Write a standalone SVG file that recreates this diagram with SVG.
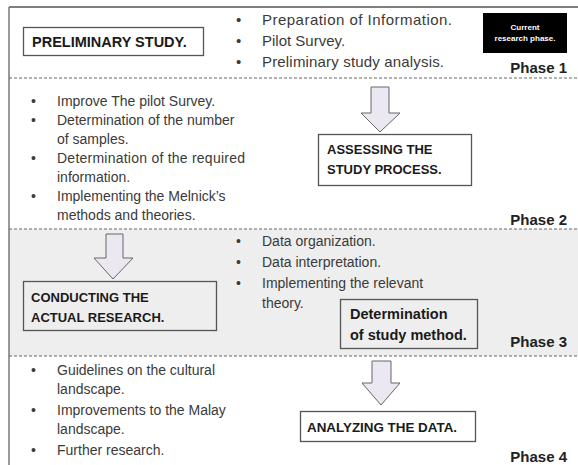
<svg xmlns="http://www.w3.org/2000/svg" width="578" height="465" viewBox="0 0 578 465">
<style>
.t{font-family:"Liberation Sans",Arial,sans-serif;font-size:14px;fill:#3a3a3a}
.t1{font-family:"Liberation Sans",Arial,sans-serif;font-size:15px;fill:#3a3a3a}
.b{font-family:"Liberation Sans",Arial,sans-serif;font-size:13px;font-weight:bold;fill:#1a1a1a}
.ph{font-family:"Liberation Sans",Arial,sans-serif;font-size:15px;font-weight:bold;fill:#222;text-anchor:end}
.box{fill:none;stroke:#555;stroke-width:1.3}
.dash{stroke:#666;stroke-width:1;stroke-dasharray:3,2}
.arr{fill:#ebe8f2;stroke:#666;stroke-width:1}
</style>
<rect x="0" y="0" width="578" height="465" fill="#fff"/>
<rect x="9" y="229" width="569" height="127" fill="#eeeeee"/>
<g id="frame">
<line x1="9" y1="7" x2="578" y2="7" stroke="#555" stroke-width="1.5"/>
<line x1="9" y1="7" x2="9" y2="465" stroke="#777" stroke-width="1.5"/>
<line class="dash" x1="9" y1="78" x2="578" y2="78"/>
<line class="dash" x1="9" y1="229" x2="578" y2="229"/>
<line class="dash" x1="9" y1="356" x2="578" y2="356"/>
</g>
<g id="preliminary">
<rect class="box" x="23.5" y="27.5" width="180" height="28"/>
<text class="b" x="32" y="47" style="font-size:14.5px">PRELIMINARY STUDY.</text>
</g>
<g id="phase1-bullets" class="t1">
<text x="236" y="25">•</text><text x="262" y="25" textLength="190">Preparation of Information.</text>
<text x="236" y="46">•</text><text x="262" y="46">Pilot Survey.</text>
<text x="236" y="67">•</text><text x="262" y="67" textLength="182">Preliminary study analysis.</text>
</g>
<g id="current">
<rect x="483" y="13" width="84" height="40" fill="#000"/>
<text x="525" y="30" text-anchor="middle" font-family="Liberation Sans,Arial,sans-serif" font-size="8" font-weight="bold" fill="#fff">Current</text>
<text x="525" y="41" text-anchor="middle" font-family="Liberation Sans,Arial,sans-serif" font-size="8" font-weight="bold" fill="#fff">research phase.</text>
</g>
<text class="ph" x="567" y="73">Phase 1</text>
<g id="phase2-bullets" class="t">
<text x="31" y="106">•</text><text x="57" y="106">Improve The pilot Survey.</text>
<text x="31" y="125">•</text><text x="57" y="125">Determination of the number</text>
<text x="57" y="144">of samples.</text>
<text x="31" y="163">•</text><text x="57" y="163" textLength="188">Determination of the required</text>
<text x="57" y="182">information.</text>
<text x="31" y="201">•</text><text x="57" y="201">Implementing the Melnick’s</text>
<text x="57" y="220">methods and theories.</text>
</g>
<g id="connectors">
<path class="arr" d="M371,87 H389 V113 H400 L380,132 L361,113 H371 Z"/>
<path class="arr" d="M106,234 H123 V258 H133 L113,279 L94,258 H106 Z"/>
<path class="arr" d="M372,361 H391 V383 H400 L381,405 L362,383 H372 Z"/>
</g>
<g id="assessing">
<rect class="box" x="318.5" y="134.5" width="153" height="51"/>
<text class="b" x="327" y="154">ASSESSING THE</text>
<text class="b" x="327" y="174">STUDY PROCESS.</text>
</g>
<text class="ph" x="567" y="225">Phase 2</text>
<g id="conducting">
<rect class="box" x="23.5" y="281.5" width="193" height="49"/>
<text class="b" x="31" y="302">CONDUCTING THE</text>
<text class="b" x="31" y="322">ACTUAL RESEARCH.</text>
</g>
<g id="phase3-bullets" class="t">
<text x="236" y="246">•</text><text x="262" y="246">Data organization.</text>
<text x="236" y="267">•</text><text x="262" y="267">Data interpretation.</text>
<text x="236" y="288">•</text><text x="262" y="288">Implementing the relevant</text>
<text x="262" y="308">theory.</text>
</g>
<g id="determination">
<rect class="box" x="340.5" y="299.5" width="137" height="49"/>
<text class="b" x="350" y="319" style="font-size:14.5px">Determination</text>
<text class="b" x="350" y="340" style="font-size:14.5px">of study method.</text>
</g>
<text class="ph" x="567" y="347">Phase 3</text>
<g id="phase4-bullets" class="t">
<text x="31" y="375">•</text><text x="57" y="375">Guidelines on the cultural</text>
<text x="57" y="394">landscape.</text>
<text x="31" y="415">•</text><text x="57" y="415">Improvements to the Malay</text>
<text x="57" y="434">landscape.</text>
<text x="31" y="455">•</text><text x="57" y="455">Further research.</text>
</g>
<g id="analyzing">
<rect class="box" x="300.5" y="411.5" width="175" height="30"/>
<text class="b" x="307" y="432" style="font-size:13.4px">ANALYZING THE DATA.</text>
</g>
<text class="ph" x="567" y="462">Phase 4</text>
</svg>
